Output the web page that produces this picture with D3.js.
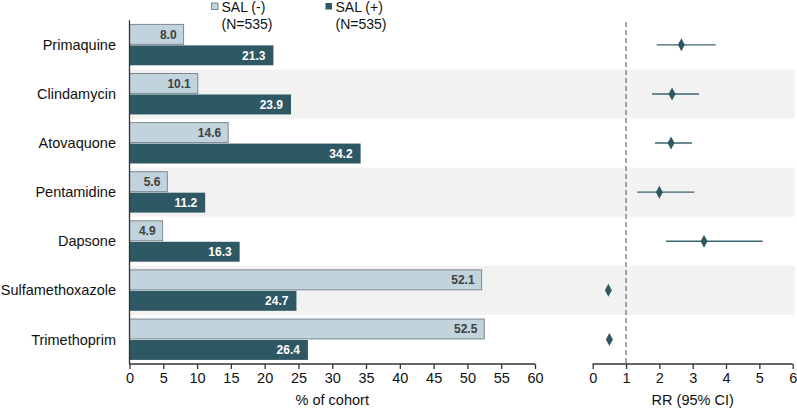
<!DOCTYPE html>
<html>
<head>
<meta charset="utf-8">
<script src="https://cdn.jsdelivr.net/npm/d3@7"></script>
<style>
  body { margin: 0; background: #fff; }
  svg { display: block; font-family: "Liberation Sans", Arial, sans-serif; }
</style>
</head>
<body>
<div id="fig"></div>
<script>
const categories = ["Primaquine", "Clindamycin", "Atovaquone", "Pentamidine", "Dapsone", "Sulfamethoxazole", "Trimethoprim"];
const salNeg = [8.0, 10.1, 14.6, 5.6, 4.9, 52.1, 52.5];
const salPos = [21.3, 23.9, 34.2, 11.2, 16.3, 24.7, 26.4];
const rr     = [2.66, 2.38, 2.35, 2.00, 3.34, 0.47, 0.50];
const rrLow  = [1.92, 1.78, 1.87, 1.33, 2.20, 0.44, 0.47];
const rrHigh = [3.69, 3.19, 2.98, 3.05, 5.10, 0.51, 0.54];
const seriesNames = ["SAL (-)", "SAL (+)"];
const seriesN = ["(N=535)", "(N=535)"];
const pctTicks = d3.range(0, 61, 5);
const rrTicks = d3.range(0, 7, 1);

function main() {
  const width = 797, height = 411;
  const lightFill = "#c1d3dc", lightStroke = "#7d8990";
  const darkFill = "#2e5864";

  const svg = d3.select("#fig").append("svg")
      .attr("width", width)
      .attr("height", height);

  const x = d3.scaleLinear().domain([0, 60]).range([129.5, 535]);
  const xr = d3.scaleLinear().domain([0, 6]).range([592.7, 792.7]);
  const y = d3.scaleBand().domain(categories).range([20.3, 364]);
  const inner = d3.scaleBand().domain([0, 1]).range([4.1, y.bandwidth() - 4.1]).paddingInner(0.05);

  // shaded rows
  svg.append("g").selectAll("rect")
    .data(categories.filter((d, i) => i % 2 === 1))
    .join("rect")
      .attr("x", x(0))
      .attr("y", d => y(d))
      .attr("width", 795 - x(0))
      .attr("height", y.bandwidth())
      .attr("fill", "#f2f2f2");

  const rows = svg.append("g").selectAll("g")
    .data(categories)
    .join("g")
      .attr("transform", d => `translate(0,${y(d)})`);

  rows.append("rect")
      .attr("x", x(0))
      .attr("y", inner(0))
      .attr("width", (d, i) => x(salNeg[i]) - x(0))
      .attr("height", inner.bandwidth())
      .attr("fill", lightFill)
      .attr("stroke", lightStroke)
      .attr("stroke-width", 1);

  rows.append("rect")
      .attr("x", x(0))
      .attr("y", inner(1))
      .attr("width", (d, i) => x(salPos[i]) - x(0))
      .attr("height", inner.bandwidth())
      .attr("fill", darkFill);

  rows.append("text")
      .attr("x", (d, i) => x(salNeg[i]) - 7)
      .attr("y", inner(0) + inner.bandwidth() / 2)
      .attr("dy", "0.35em")
      .attr("text-anchor", "end")
      .attr("font-size", 12)
      .attr("font-weight", "bold")
      .attr("fill", "#404040")
      .text((d, i) => salNeg[i].toFixed(1));

  rows.append("text")
      .attr("x", (d, i) => x(salPos[i]) - 8)
      .attr("y", inner(1) + inner.bandwidth() / 2)
      .attr("dy", "0.35em")
      .attr("text-anchor", "end")
      .attr("font-size", 12)
      .attr("font-weight", "bold")
      .attr("fill", "#fff")
      .text((d, i) => salPos[i].toFixed(1));

  rows.append("text")
      .attr("x", 116)
      .attr("y", y.bandwidth() / 2)
      .attr("dy", "0.35em")
      .attr("text-anchor", "end")
      .attr("font-size", 14.5)
      .attr("fill", "#111")
      .text(d => d);

  // left axes
  const xAxis = svg.append("g")
      .attr("transform", `translate(0,364)`)
      .call(d3.axisBottom(x).tickValues(pctTicks).tickFormat(d3.format("d"))
        .tickSize(5).tickSizeOuter(0).tickPadding(4));
  xAxis.selectAll("text").attr("font-size", 14.5).attr("fill", "#111");
  xAxis.selectAll("line, path").attr("stroke", "#333").attr("stroke-width", 1.3);
  xAxis.select(".domain").attr("d", `M${x(0)},0H${x(60)}`);

  svg.append("line")
      .attr("x1", x(0)).attr("x2", x(0))
      .attr("y1", 20.3).attr("y2", 364)
      .attr("stroke", "#333").attr("stroke-width", 1.3);

  svg.append("text")
      .attr("x", (x(0) + x(60)) / 2)
      .attr("y", 405)
      .attr("text-anchor", "middle")
      .attr("font-size", 14.5)
      .attr("fill", "#111")
      .text("% of cohort");

  // right panel
  const rAxis = svg.append("g")
      .attr("transform", `translate(0,364)`)
      .call(d3.axisBottom(xr).tickValues(rrTicks).tickFormat(d3.format("d"))
        .tickSize(5).tickSizeOuter(0).tickPadding(4));
  rAxis.selectAll("text").attr("font-size", 14.5).attr("fill", "#111");
  rAxis.selectAll("line, path").attr("stroke", "#333").attr("stroke-width", 1.3);
  rAxis.select(".domain").attr("d", `M${xr(0)},0H${xr(6)}`);

  svg.append("line")
      .attr("x1", xr(1)).attr("x2", xr(1))
      .attr("y1", 22).attr("y2", 364)
      .attr("stroke", "#777")
      .attr("stroke-width", 1.3)
      .attr("stroke-dasharray", "5,3");

  svg.append("text")
      .attr("x", (xr(0) + xr(6)) / 2)
      .attr("y", 405)
      .attr("text-anchor", "middle")
      .attr("font-size", 14.5)
      .attr("fill", "#111")
      .text("RR (95% CI)");

  rows.append("line")
      .attr("x1", (d, i) => xr(rrLow[i]))
      .attr("x2", (d, i) => xr(rrHigh[i]))
      .attr("y1", y.bandwidth() / 2)
      .attr("y2", y.bandwidth() / 2)
      .attr("stroke", "#3a6571")
      .attr("stroke-width", 1.4);

  rows.append("path")
      .attr("transform", (d, i) => `translate(${xr(rr[i])},${y.bandwidth() / 2})`)
      .attr("d", "M0,-6.5L3.5,0L0,6.5L-3.5,0Z")
      .attr("fill", darkFill);

  // legend
  const legendX = [211, 325];
  const legend = svg.append("g").selectAll("g")
    .data(seriesNames)
    .join("g")
      .attr("transform", (d, i) => `translate(${legendX[i]},0)`);

  legend.append("rect")
      .attr("x", 0.5).attr("y", 3)
      .attr("width", 6.5).attr("height", 6.5)
      .attr("fill", (d, i) => i === 0 ? lightFill : darkFill)
      .attr("stroke", (d, i) => i === 0 ? lightStroke : "none");

  legend.append("text")
      .attr("x", 10.5)
      .attr("y", 12)
      .attr("font-size", 14)
      .attr("fill", "#111")
      .text(d => d);

  legend.append("text")
      .attr("x", 10.5)
      .attr("y", 28.5)
      .attr("font-size", 14)
      .attr("fill", "#111")
      .text((d, i) => seriesN[i]);
}

main();
</script>
</body>
</html>
